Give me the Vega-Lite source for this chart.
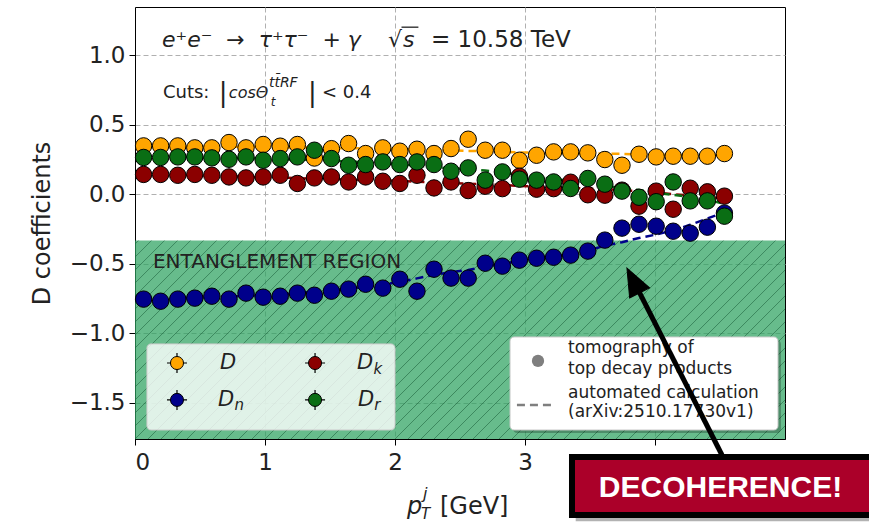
{
  "$schema": "https://vega.github.io/schema/vega-lite/v6.json",
  "width": 650,
  "height": 432,
  "autosize": {"type": "none"},
  "padding": {"left": 135, "top": 7, "right": 84, "bottom": 85},
  "background": "white",
  "data": {"values": [{"one": 1}]},
  "config": {
    "font": "DejaVu Sans",
    "view": {"stroke": "black", "strokeWidth": 1}
  },
  "datasets": {
    "pts": [
      {"x": 0.066, "D": 0.347, "Dn": -0.754, "Dk": 0.142, "Dr": 0.264},
      {"x": 0.197, "D": 0.347, "Dn": -0.769, "Dk": 0.142, "Dr": 0.264},
      {"x": 0.329, "D": 0.347, "Dn": -0.754, "Dk": 0.136, "Dr": 0.268},
      {"x": 0.46, "D": 0.333, "Dn": -0.747, "Dk": 0.142, "Dr": 0.268},
      {"x": 0.591, "D": 0.333, "Dn": -0.733, "Dk": 0.136, "Dr": 0.261},
      {"x": 0.723, "D": 0.371, "Dn": -0.754, "Dk": 0.124, "Dr": 0.251},
      {"x": 0.854, "D": 0.333, "Dn": -0.711, "Dk": 0.117, "Dr": 0.268},
      {"x": 0.986, "D": 0.357, "Dn": -0.74, "Dk": 0.124, "Dr": 0.244},
      {"x": 1.117, "D": 0.345, "Dn": -0.733, "Dk": 0.136, "Dr": 0.256},
      {"x": 1.249, "D": 0.357, "Dn": -0.711, "Dk": 0.077, "Dr": 0.268},
      {"x": 1.38, "D": 0.26, "Dn": -0.726, "Dk": 0.117, "Dr": 0.316},
      {"x": 1.511, "D": 0.327, "Dn": -0.697, "Dk": 0.124, "Dr": 0.256},
      {"x": 1.643, "D": 0.364, "Dn": -0.682, "Dk": 0.088, "Dr": 0.208},
      {"x": 1.774, "D": 0.292, "Dn": -0.647, "Dk": 0.124, "Dr": 0.213},
      {"x": 1.906, "D": 0.333, "Dn": -0.675, "Dk": 0.093, "Dr": 0.232},
      {"x": 2.037, "D": 0.309, "Dn": -0.611, "Dk": 0.077, "Dr": 0.213},
      {"x": 2.169, "D": 0.323, "Dn": -0.697, "Dk": 0.136, "Dr": 0.232},
      {"x": 2.3, "D": 0.292, "Dn": -0.539, "Dk": 0.045, "Dr": 0.213},
      {"x": 2.431, "D": 0.328, "Dn": -0.603, "Dk": 0.088, "Dr": 0.165},
      {"x": 2.563, "D": 0.395, "Dn": -0.603, "Dk": 0.026, "Dr": 0.189},
      {"x": 2.694, "D": 0.316, "Dn": -0.496, "Dk": 0.057, "Dr": 0.101},
      {"x": 2.826, "D": 0.316, "Dn": -0.517, "Dk": 0.04, "Dr": 0.16},
      {"x": 2.957, "D": 0.244, "Dn": -0.474, "Dk": 0.129, "Dr": 0.108},
      {"x": 3.089, "D": 0.28, "Dn": -0.46, "Dk": 0.036, "Dr": 0.101},
      {"x": 3.22, "D": 0.304, "Dn": -0.453, "Dk": 0.04, "Dr": 0.088},
      {"x": 3.351, "D": 0.304, "Dn": -0.438, "Dk": 0.086, "Dr": 0.041},
      {"x": 3.483, "D": 0.297, "Dn": -0.409, "Dk": -0.004, "Dr": 0.113},
      {"x": 3.614, "D": 0.249, "Dn": -0.33, "Dk": -0.007, "Dr": 0.072},
      {"x": 3.746, "D": 0.208, "Dn": -0.244, "Dk": 0.029, "Dr": 0.022},
      {"x": 3.877, "D": 0.287, "Dn": -0.216, "Dk": -0.086, "Dr": -0.022},
      {"x": 4.009, "D": 0.268, "Dn": -0.23, "Dk": 0.022, "Dr": -0.054},
      {"x": 4.14, "D": 0.273, "Dn": -0.266, "Dk": -0.108, "Dr": 0.088},
      {"x": 4.271, "D": 0.273, "Dn": -0.28, "Dk": 0.043, "Dr": -0.048},
      {"x": 4.403, "D": 0.273, "Dn": -0.237, "Dk": 0.017, "Dr": -0.048},
      {"x": 4.534, "D": 0.292, "Dn": -0.136, "Dk": -0.014, "Dr": -0.158}
    ],
    "calc": [
      {"x": 0.066, "D": 0.34, "Dn": -0.75, "Dk": 0.14, "Dr": 0.27},
      {"x": 0.197, "D": 0.34, "Dn": -0.75, "Dk": 0.14, "Dr": 0.27},
      {"x": 0.329, "D": 0.34, "Dn": -0.75, "Dk": 0.14, "Dr": 0.27},
      {"x": 0.46, "D": 0.34, "Dn": -0.745, "Dk": 0.135, "Dr": 0.265},
      {"x": 0.591, "D": 0.34, "Dn": -0.74, "Dk": 0.13, "Dr": 0.26},
      {"x": 0.723, "D": 0.34, "Dn": -0.735, "Dk": 0.13, "Dr": 0.26},
      {"x": 0.854, "D": 0.34, "Dn": -0.73, "Dk": 0.125, "Dr": 0.26},
      {"x": 0.986, "D": 0.34, "Dn": -0.725, "Dk": 0.12, "Dr": 0.255},
      {"x": 1.117, "D": 0.335, "Dn": -0.72, "Dk": 0.12, "Dr": 0.25},
      {"x": 1.249, "D": 0.335, "Dn": -0.71, "Dk": 0.115, "Dr": 0.25},
      {"x": 1.38, "D": 0.335, "Dn": -0.7, "Dk": 0.11, "Dr": 0.245},
      {"x": 1.511, "D": 0.33, "Dn": -0.69, "Dk": 0.11, "Dr": 0.24},
      {"x": 1.643, "D": 0.33, "Dn": -0.68, "Dk": 0.105, "Dr": 0.235},
      {"x": 1.774, "D": 0.33, "Dn": -0.665, "Dk": 0.1, "Dr": 0.23},
      {"x": 1.906, "D": 0.325, "Dn": -0.65, "Dk": 0.1, "Dr": 0.225},
      {"x": 2.037, "D": 0.325, "Dn": -0.63, "Dk": 0.095, "Dr": 0.215},
      {"x": 2.169, "D": 0.32, "Dn": -0.605, "Dk": 0.09, "Dr": 0.205},
      {"x": 2.3, "D": 0.32, "Dn": -0.58, "Dk": 0.085, "Dr": 0.195},
      {"x": 2.431, "D": 0.315, "Dn": -0.56, "Dk": 0.08, "Dr": 0.185},
      {"x": 2.563, "D": 0.31, "Dn": -0.545, "Dk": 0.075, "Dr": 0.18},
      {"x": 2.694, "D": 0.31, "Dn": -0.52, "Dk": 0.07, "Dr": 0.17},
      {"x": 2.826, "D": 0.305, "Dn": -0.5, "Dk": 0.065, "Dr": 0.155},
      {"x": 2.957, "D": 0.3, "Dn": -0.48, "Dk": 0.06, "Dr": 0.14},
      {"x": 3.089, "D": 0.3, "Dn": -0.465, "Dk": 0.055, "Dr": 0.125},
      {"x": 3.22, "D": 0.3, "Dn": -0.45, "Dk": 0.05, "Dr": 0.11},
      {"x": 3.351, "D": 0.295, "Dn": -0.43, "Dk": 0.045, "Dr": 0.095},
      {"x": 3.483, "D": 0.295, "Dn": -0.405, "Dk": 0.04, "Dr": 0.08},
      {"x": 3.614, "D": 0.29, "Dn": -0.37, "Dk": 0.035, "Dr": 0.06},
      {"x": 3.746, "D": 0.29, "Dn": -0.345, "Dk": 0.03, "Dr": 0.045},
      {"x": 3.877, "D": 0.285, "Dn": -0.315, "Dk": 0.02, "Dr": 0.03},
      {"x": 4.009, "D": 0.285, "Dn": -0.29, "Dk": 0.01, "Dr": 0.01},
      {"x": 4.14, "D": 0.28, "Dn": -0.26, "Dk": 0.0, "Dr": -0.005},
      {"x": 4.271, "D": 0.28, "Dn": -0.22, "Dk": -0.01, "Dr": -0.02},
      {"x": 4.403, "D": 0.28, "Dn": -0.175, "Dk": -0.02, "Dr": -0.04},
      {"x": 4.534, "D": 0.28, "Dn": -0.13, "Dk": -0.03, "Dr": -0.07}
    ],
    "hatch": [
      {"a": -1.5, "b": 0.027}, {"a": -1.4, "b": 0.127}, {"a": -1.3, "b": 0.227}, {"a": -1.2, "b": 0.327},
      {"a": -1.1, "b": 0.427}, {"a": -1.0, "b": 0.527}, {"a": -0.9, "b": 0.627}, {"a": -0.8, "b": 0.727},
      {"a": -0.7, "b": 0.827}, {"a": -0.6, "b": 0.927}, {"a": -0.5, "b": 1.027}, {"a": -0.4, "b": 1.127},
      {"a": -0.3, "b": 1.227}, {"a": -0.2, "b": 1.327}, {"a": -0.1, "b": 1.427}, {"a": 0.0, "b": 1.527},
      {"a": 0.1, "b": 1.627}, {"a": 0.2, "b": 1.727}, {"a": 0.3, "b": 1.827}, {"a": 0.4, "b": 1.927},
      {"a": 0.5, "b": 2.027}, {"a": 0.6, "b": 2.127}, {"a": 0.7, "b": 2.227}, {"a": 0.8, "b": 2.327},
      {"a": 0.9, "b": 2.427}, {"a": 1.0, "b": 2.527}, {"a": 1.1, "b": 2.627}, {"a": 1.2, "b": 2.727},
      {"a": 1.3, "b": 2.827}, {"a": 1.4, "b": 2.927}, {"a": 1.5, "b": 3.027}, {"a": 1.6, "b": 3.127},
      {"a": 1.7, "b": 3.227}, {"a": 1.8, "b": 3.327}, {"a": 1.9, "b": 3.427}, {"a": 2.0, "b": 3.527},
      {"a": 2.1, "b": 3.627}, {"a": 2.2, "b": 3.727}, {"a": 2.3, "b": 3.827}, {"a": 2.4, "b": 3.927},
      {"a": 2.5, "b": 4.027}, {"a": 2.6, "b": 4.127}, {"a": 2.7, "b": 4.227}, {"a": 2.8, "b": 4.327},
      {"a": 2.9, "b": 4.427}, {"a": 3.0, "b": 4.527}, {"a": 3.1, "b": 4.627}, {"a": 3.2, "b": 4.727},
      {"a": 3.3, "b": 4.827}, {"a": 3.4, "b": 4.927}, {"a": 3.5, "b": 5.027}, {"a": 3.6, "b": 5.127},
      {"a": 3.7, "b": 5.227}, {"a": 3.8, "b": 5.327}, {"a": 3.9, "b": 5.427}, {"a": 4.0, "b": 5.527},
      {"a": 4.1, "b": 5.627}, {"a": 4.2, "b": 5.727}, {"a": 4.3, "b": 5.827}, {"a": 4.4, "b": 5.927},
      {"a": 4.5, "b": 6.027}, {"a": 4.6, "b": 6.127}, {"a": 4.7, "b": 6.227}, {"a": 4.8, "b": 6.327},
      {"a": 4.9, "b": 6.427}, {"a": 5.0, "b": 6.527}
    ]
  },
  "layer": [
    {
      "data": {"name": "pts"},
      "mark": {"type": "point", "opacity": 0},
      "encoding": {
        "x": {
          "field": "x", "type": "quantitative",
          "scale": {"domain": [0, 5], "nice": false, "zero": false},
          "axis": {
            "values": [0, 1, 2, 3, 4], "format": "d", "title": null,
            "labelExpr": "datum.value == 4 ? '' : datum.label",
            "labelFontSize": 23, "labelPadding": 6, "labelColor": "#222222",
            "tickSize": 6, "tickColor": "black", "domainColor": "black",
            "grid": true, "gridColor": "#b0b0b0", "gridDash": [5, 3], "gridWidth": 1
          }
        },
        "y": {
          "field": "D", "type": "quantitative",
          "scale": {"domain": [-1.759, 1.345], "nice": false, "zero": false},
          "axis": {
            "values": [-1.5, -1, -0.5, 0, 0.5, 1], "format": ".1f",
            "labelExpr": "replace(datum.label, '-', '−')",
            "labelFontSize": 23, "labelPadding": 4, "labelColor": "#222222",
            "tickSize": 6, "tickColor": "black", "domainColor": "black",
            "grid": true, "gridColor": "#b0b0b0", "gridDash": [5, 3], "gridWidth": 1,
            "title": "D coefficients", "titleFontSize": 24, "titleFontWeight": "normal", "titleColor": "#222222", "titlePadding": 15
          }
        }
      }
    },
    {
      "mark": {"type": "rect", "fill": "#2ca25f", "opacity": 0.72, "clip": true},
      "encoding": {
        "x": {"datum": 0, "type": "quantitative"},
        "x2": {"datum": 5},
        "y": {"datum": -1.8, "type": "quantitative"},
        "y2": {"datum": -0.333}
      }
    },
    {
      "data": {"name": "hatch"},
      "mark": {"type": "rule", "stroke": "#1b5e3a", "strokeWidth": 1, "opacity": 0.55, "clip": true},
      "encoding": {
        "x": {"field": "a", "type": "quantitative"},
        "x2": {"field": "b"},
        "y": {"datum": -1.759, "type": "quantitative"},
        "y2": {"datum": -0.333}
      }
    },
    {
      "mark": {"type": "text", "text": "ENTANGLEMENT REGION", "fontSize": 20, "align": "left", "baseline": "middle", "fill": "#222222"},
      "encoding": {"x": {"datum": 0.138}, "y": {"datum": -0.487}}
    },
    {
      "data": {"name": "calc"},
      "mark": {"type": "line", "stroke": "#ffa500", "strokeWidth": 2.5, "strokeDash": [8, 5]},
      "encoding": {"x": {"field": "x", "type": "quantitative"}, "y": {"field": "D", "type": "quantitative"}}
    },
    {
      "data": {"name": "calc"},
      "mark": {"type": "line", "stroke": "#00008b", "strokeWidth": 2.5, "strokeDash": [8, 5]},
      "encoding": {"x": {"field": "x", "type": "quantitative"}, "y": {"field": "Dn", "type": "quantitative"}}
    },
    {
      "data": {"name": "calc"},
      "mark": {"type": "line", "stroke": "#8b0000", "strokeWidth": 2.5, "strokeDash": [8, 5]},
      "encoding": {"x": {"field": "x", "type": "quantitative"}, "y": {"field": "Dk", "type": "quantitative"}}
    },
    {
      "data": {"name": "calc"},
      "mark": {"type": "line", "stroke": "#0a6e14", "strokeWidth": 2.5, "strokeDash": [8, 5]},
      "encoding": {"x": {"field": "x", "type": "quantitative"}, "y": {"field": "Dr", "type": "quantitative"}}
    },
    {
      "data": {"name": "pts"},
      "mark": {"type": "point", "shape": "circle", "filled": true, "fill": "#ffa500", "stroke": "black", "strokeWidth": 1, "size": 270, "opacity": 1},
      "encoding": {"x": {"field": "x", "type": "quantitative"}, "y": {"field": "D", "type": "quantitative"}}
    },
    {
      "data": {"name": "pts"},
      "mark": {"type": "point", "shape": "circle", "filled": true, "fill": "#00008b", "stroke": "black", "strokeWidth": 1, "size": 270, "opacity": 1},
      "encoding": {"x": {"field": "x", "type": "quantitative"}, "y": {"field": "Dn", "type": "quantitative"}}
    },
    {
      "data": {"name": "pts"},
      "mark": {"type": "point", "shape": "circle", "filled": true, "fill": "#8b0000", "stroke": "black", "strokeWidth": 1, "size": 270, "opacity": 1},
      "encoding": {"x": {"field": "x", "type": "quantitative"}, "y": {"field": "Dk", "type": "quantitative"}}
    },
    {
      "data": {"name": "pts"},
      "mark": {"type": "point", "shape": "circle", "filled": true, "fill": "#0a6e14", "stroke": "black", "strokeWidth": 1, "size": 270, "opacity": 1},
      "encoding": {"x": {"field": "x", "type": "quantitative"}, "y": {"field": "Dr", "type": "quantitative"}}
    },
    {
      "mark": {"type": "text", "text": "e⁺e⁻\u00a0 →\u00a0 τ⁺τ⁻\u00a0 + γ", "fontSize": 22, "fontStyle": "italic", "align": "left", "baseline": "middle", "fill": "#222222"},
      "encoding": {"x": {"datum": 0.208}, "y": {"datum": 1.108}}
    },
    {
      "mark": {"type": "text", "text": "√", "fontSize": 22, "align": "left", "baseline": "middle", "fill": "#222222"},
      "encoding": {"x": {"datum": 1.946}, "y": {"datum": 1.108}}
    },
    {
      "mark": {"type": "text", "text": "s", "fontSize": 22, "fontStyle": "italic", "align": "left", "baseline": "middle", "fill": "#222222"},
      "encoding": {"x": {"datum": 2.062}, "y": {"datum": 1.108}}
    },
    {
      "mark": {"type": "rule", "stroke": "#222222", "strokeWidth": 1.3},
      "encoding": {"x": {"datum": 2.05}, "x2": {"datum": 2.18}, "y": {"datum": 1.2}}
    },
    {
      "mark": {"type": "text", "text": "= 10.58 TeV", "fontSize": 23, "align": "left", "baseline": "middle", "fill": "#222222"},
      "encoding": {"x": {"datum": 2.277}, "y": {"datum": 1.108}}
    },
    {
      "mark": {"type": "text", "text": "Cuts:", "fontSize": 18, "align": "left", "baseline": "middle", "fill": "#222222"},
      "encoding": {"x": {"datum": 0.215}, "y": {"datum": 0.727}}
    },
    {
      "mark": {"type": "text", "text": "|", "fontSize": 26, "align": "left", "baseline": "middle", "fill": "#222222"},
      "encoding": {"x": {"datum": 0.645}, "y": {"datum": 0.727}}
    },
    {
      "mark": {"type": "text", "text": "cosΘ", "fontSize": 16, "fontStyle": "italic", "align": "left", "baseline": "middle", "fill": "#222222"},
      "encoding": {"x": {"datum": 0.722}, "y": {"datum": 0.727}}
    },
    {
      "mark": {"type": "text", "text": "tt̄RF", "fontSize": 14, "fontStyle": "italic", "align": "left", "baseline": "middle", "fill": "#222222"},
      "encoding": {"x": {"datum": 1.03}, "y": {"datum": 0.8}}
    },
    {
      "mark": {"type": "text", "text": "t", "fontSize": 12, "fontStyle": "italic", "align": "left", "baseline": "middle", "fill": "#222222"},
      "encoding": {"x": {"datum": 1.045}, "y": {"datum": 0.665}}
    },
    {
      "mark": {"type": "text", "text": "|", "fontSize": 26, "align": "left", "baseline": "middle", "fill": "#222222"},
      "encoding": {"x": {"datum": 1.33}, "y": {"datum": 0.727}}
    },
    {
      "mark": {"type": "text", "text": "< 0.4", "fontSize": 18, "align": "left", "baseline": "middle", "fill": "#222222"},
      "encoding": {"x": {"datum": 1.438}, "y": {"datum": 0.727}}
    },
    {
      "mark": {"type": "rect", "fill": "white", "fillOpacity": 0.8, "stroke": "#cccccc", "strokeWidth": 1, "cornerRadius": 4},
      "encoding": {"x": {"datum": 0.092}, "x2": {"datum": 2.0}, "y": {"datum": -1.076}, "y2": {"datum": -1.694}}
    },
    {
      "mark": {"type": "point", "shape": "M0,-1L0,1M-1,0L1,0", "filled": false, "stroke": "black", "strokeWidth": 1.2, "size": 400, "opacity": 1},
      "encoding": {"x": {"datum": 0.323}, "y": {"datum": -1.213}}
    },
    {
      "mark": {"type": "point", "shape": "M0,-1L0,1M-1,0L1,0", "filled": false, "stroke": "black", "strokeWidth": 1.2, "size": 400, "opacity": 1},
      "encoding": {"x": {"datum": 0.323}, "y": {"datum": -1.478}}
    },
    {
      "mark": {"type": "point", "shape": "M0,-1L0,1M-1,0L1,0", "filled": false, "stroke": "black", "strokeWidth": 1.2, "size": 400, "opacity": 1},
      "encoding": {"x": {"datum": 1.385}, "y": {"datum": -1.213}}
    },
    {
      "mark": {"type": "point", "shape": "M0,-1L0,1M-1,0L1,0", "filled": false, "stroke": "black", "strokeWidth": 1.2, "size": 400, "opacity": 1},
      "encoding": {"x": {"datum": 1.385}, "y": {"datum": -1.478}}
    },
    {
      "mark": {"type": "point", "shape": "circle", "filled": true, "fill": "#ffa500", "stroke": "black", "strokeWidth": 1, "size": 170, "opacity": 1},
      "encoding": {"x": {"datum": 0.323}, "y": {"datum": -1.213}}
    },
    {
      "mark": {"type": "point", "shape": "circle", "filled": true, "fill": "#00008b", "stroke": "black", "strokeWidth": 1, "size": 170, "opacity": 1},
      "encoding": {"x": {"datum": 0.323}, "y": {"datum": -1.478}}
    },
    {
      "mark": {"type": "point", "shape": "circle", "filled": true, "fill": "#8b0000", "stroke": "black", "strokeWidth": 1, "size": 170, "opacity": 1},
      "encoding": {"x": {"datum": 1.385}, "y": {"datum": -1.213}}
    },
    {
      "mark": {"type": "point", "shape": "circle", "filled": true, "fill": "#0a6e14", "stroke": "black", "strokeWidth": 1, "size": 170, "opacity": 1},
      "encoding": {"x": {"datum": 1.385}, "y": {"datum": -1.478}}
    },
    {
      "mark": {"type": "text", "text": "D", "fontSize": 21, "fontStyle": "italic", "align": "left", "baseline": "middle", "fill": "#222222"},
      "encoding": {"x": {"datum": 0.654}, "y": {"datum": -1.213}}
    },
    {
      "mark": {"type": "text", "text": "D", "fontSize": 21, "fontStyle": "italic", "align": "left", "baseline": "middle", "fill": "#222222"},
      "encoding": {"x": {"datum": 0.638}, "y": {"datum": -1.478}}
    },
    {
      "mark": {"type": "text", "text": "n", "fontSize": 15, "fontStyle": "italic", "align": "left", "baseline": "middle", "fill": "#222222"},
      "encoding": {"x": {"datum": 0.765}, "y": {"datum": -1.515}}
    },
    {
      "mark": {"type": "text", "text": "D", "fontSize": 21, "fontStyle": "italic", "align": "left", "baseline": "middle", "fill": "#222222"},
      "encoding": {"x": {"datum": 1.708}, "y": {"datum": -1.213}}
    },
    {
      "mark": {"type": "text", "text": "k", "fontSize": 15, "fontStyle": "italic", "align": "left", "baseline": "middle", "fill": "#222222"},
      "encoding": {"x": {"datum": 1.835}, "y": {"datum": -1.255}}
    },
    {
      "mark": {"type": "text", "text": "D", "fontSize": 21, "fontStyle": "italic", "align": "left", "baseline": "middle", "fill": "#222222"},
      "encoding": {"x": {"datum": 1.715}, "y": {"datum": -1.478}}
    },
    {
      "mark": {"type": "text", "text": "r", "fontSize": 15, "fontStyle": "italic", "align": "left", "baseline": "middle", "fill": "#222222"},
      "encoding": {"x": {"datum": 1.84}, "y": {"datum": -1.515}}
    },
    {
      "mark": {"type": "rect", "fill": "#000000", "opacity": 0.25, "cornerRadius": 4},
      "encoding": {"x": {"datum": 2.908}, "x2": {"datum": 4.969}, "y": {"datum": -1.047}, "y2": {"datum": -1.716}}
    },
    {
      "mark": {"type": "rect", "fill": "white", "stroke": "#cccccc", "strokeWidth": 1, "cornerRadius": 4},
      "encoding": {"x": {"datum": 2.885}, "x2": {"datum": 4.946}, "y": {"datum": -1.026}, "y2": {"datum": -1.694}}
    },
    {
      "mark": {"type": "point", "shape": "circle", "filled": true, "fill": "#7f7f7f", "strokeWidth": 0, "size": 150, "opacity": 1},
      "encoding": {"x": {"datum": 3.1}, "y": {"datum": -1.198}}
    },
    {
      "mark": {"type": "rule", "stroke": "#7f7f7f", "strokeWidth": 2.5, "strokeDash": [8, 5]},
      "encoding": {"x": {"datum": 2.938}, "x2": {"datum": 3.231}, "y": {"datum": -1.514}}
    },
    {
      "mark": {"type": "text", "text": "tomography of", "fontSize": 17, "align": "left", "baseline": "middle", "fill": "#222222"},
      "encoding": {"x": {"datum": 3.331}, "y": {"datum": -1.105}}
    },
    {
      "mark": {"type": "text", "text": "top decay products", "fontSize": 17, "align": "left", "baseline": "middle", "fill": "#222222"},
      "encoding": {"x": {"datum": 3.331}, "y": {"datum": -1.256}}
    },
    {
      "mark": {"type": "text", "text": "automated calculation", "fontSize": 17, "align": "left", "baseline": "middle", "fill": "#222222"},
      "encoding": {"x": {"datum": 3.331}, "y": {"datum": -1.428}}
    },
    {
      "mark": {"type": "text", "text": "(arXiv:2510.17730v1)", "fontSize": 17, "align": "left", "baseline": "middle", "fill": "#222222"},
      "encoding": {"x": {"datum": 3.331}, "y": {"datum": -1.565}}
    },
    {
      "mark": {"type": "rule", "stroke": "black", "strokeWidth": 5},
      "encoding": {"x": {"datum": 4.515}, "x2": {"datum": 3.833}, "y": {"datum": -1.874}, "y2": {"datum": -0.62}}
    },
    {
      "mark": {"type": "point", "shape": "M0,-1L0.8,1L-0.8,1Z", "filled": true, "fill": "black", "stroke": "black", "strokeWidth": 1, "size": 784, "angle": 333, "opacity": 1},
      "encoding": {"x": {"datum": 3.833}, "y": {"datum": -0.62}}
    },
    {
      "mark": {"type": "rect", "fill": "#000000", "opacity": 0.3},
      "encoding": {"x": {"datum": 3.39}, "x2": {"datum": 5.9}, "y": {"datum": -1.93}, "y2": {"datum": -2.35}}
    },
    {
      "mark": {"type": "rect", "fill": "#ab0029", "stroke": "black", "strokeWidth": 6},
      "encoding": {"x": {"datum": 3.3615}, "x2": {"datum": 5.8}, "y": {"datum": -1.888}, "y2": {"datum": -2.305}}
    },
    {
      "mark": {"type": "text", "text": "DECOHERENCE!", "font": "Liberation Sans", "fontSize": 30, "fontWeight": "bold", "align": "center", "baseline": "middle", "fill": "white"},
      "encoding": {"x": {"datum": 4.504}, "y": {"datum": -2.111}}
    },
    {
      "mark": {"type": "text", "text": "p", "fontSize": 24, "fontStyle": "italic", "align": "left", "baseline": "alphabetic", "fill": "#222222"},
      "encoding": {"x": {"datum": 2.092}, "y": {"datum": -2.3}}
    },
    {
      "mark": {"type": "text", "text": "j", "fontSize": 16, "fontStyle": "italic", "align": "left", "baseline": "alphabetic", "fill": "#222222"},
      "encoding": {"x": {"datum": 2.215}, "y": {"datum": -2.19}}
    },
    {
      "mark": {"type": "text", "text": "T", "fontSize": 15, "fontStyle": "italic", "align": "left", "baseline": "alphabetic", "fill": "#222222"},
      "encoding": {"x": {"datum": 2.2}, "y": {"datum": -2.335}}
    },
    {
      "mark": {"type": "text", "text": "[GeV]", "fontSize": 24, "align": "left", "baseline": "alphabetic", "fill": "#222222"},
      "encoding": {"x": {"datum": 2.346}, "y": {"datum": -2.3}}
    }
  ]
}
